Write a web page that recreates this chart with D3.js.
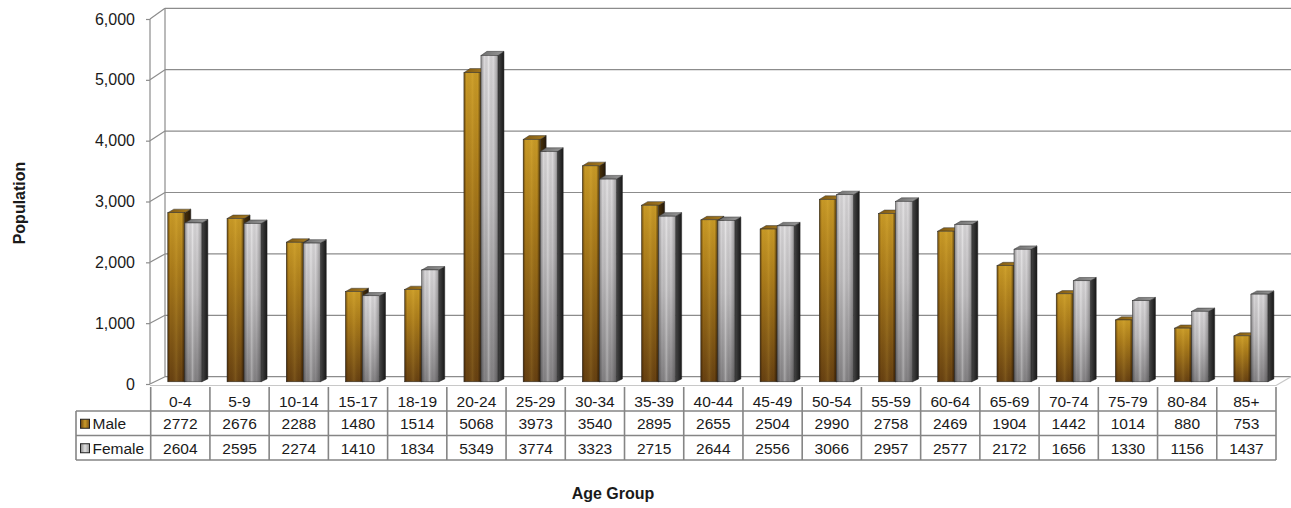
<!DOCTYPE html>
<html>
<head>
<meta charset="utf-8">
<script src="https://cdn.jsdelivr.net/npm/d3@7"></script>
<style>
  html, body { margin: 0; padding: 0; background: #ffffff; }
  svg { display: block; }
  text { font-family: "Liberation Sans", Arial, sans-serif; fill: #1a1a1a; }
</style>
</head>
<body>
<svg id="chart" width="1291" height="508"></svg>
<script>
// ---------------- data ----------------
const categories = ["0-4","5-9","10-14","15-17","18-19","20-24","25-29","30-34","35-39","40-44",
                    "45-49","50-54","55-59","60-64","65-69","70-74","75-79","80-84","85+"];
const seriesNames = ["Male","Female"];
const maleValues   = [2772,2676,2288,1480,1514,5068,3973,3540,2895,2655,2504,2990,2758,2469,1904,1442,1014,880,753];
const femaleValues = [2604,2595,2274,1410,1834,5349,3774,3323,2715,2644,2556,3066,2957,2577,2172,1656,1330,1156,1437];
const yTicks = [0,1000,2000,3000,4000,5000,6000];
const yTitle = "Population";
const xTitle = "Age Group";

// ---------------- layout ----------------
const svg = d3.select("#chart");
const W = 1291, H = 508;
const frontLeft = 150.7, frontRight = 1276;
const y = d3.scaleLinear().domain([0, 6000]).range([384, 19]);
const x = d3.scaleBand().domain(categories).range([frontLeft, frontRight]).padding(0);
const s = d3.scaleBand().domain(seriesNames).range([0, x.bandwidth()]).paddingInner(0).paddingOuter(0.74);
const DX = 15;
// depth offset (vertical) varies slightly with height (perspective)
function dyAt(yy) { return -10.7 + (yy - y(6000)) / (y(0) - y(6000)) * 3.4; }
function proj(xx, yy, z) { return [xx + DX * z, yy + dyAt(yy) * z]; }

const defs = svg.append("defs");
function lin(id, horiz, stops) {
  const g = defs.append("linearGradient").attr("id", id)
    .attr("x1", 0).attr("y1", 0).attr("x2", horiz ? 1 : 0).attr("y2", horiz ? 0 : 1);
  stops.forEach(([o, c, a]) => g.append("stop").attr("offset", o).attr("stop-color", c).attr("stop-opacity", a === undefined ? 1 : a));
}
lin("maleFront", false, [[0, "#c99a26"], [0.35, "#a97a1a"], [1, "#664011"]]);
lin("maleEdge", true, [[0, "#301800", 0.6], [0.15, "#301800", 0], [0.5, "#ffd860", 0.12], [0.82, "#000", 0], [1, "#2a1400", 0.7]]);
lin("maleTop", true, [[0, "#7e5812"], [1, "#a87c20"]]);
lin("maleSide", true, [[0, "#4a3208"], [1, "#24180a"]]);
lin("femFront", false, [[0, "#dcdadc"], [0.45, "#c0bec0"], [1, "#848284"]]);
lin("femEdge", true, [[0, "#000", 0.35], [0.2, "#000", 0], [0.45, "#fff", 0.28], [0.72, "#000", 0], [1, "#000", 0.3]]);
lin("femTop", true, [[0, "#6e6e6e"], [1, "#989898"]]);
lin("femSide", true, [[0, "#464646"], [1, "#181818"]]);
lin("keyMale", true, [[0, "#6c4511"], [0.5, "#c99a28"], [1, "#7a5214"]]);
lin("keyFem", true, [[0, "#8a8a8a"], [0.5, "#e0e0e0"], [1, "#9a9a9a"]]);

const gridColor = "#8c8c8c";
const walls = svg.append("g");

// back wall gridlines
yTicks.forEach(t => {
  const a = proj(frontLeft - 0.7, y(t), 1), b = proj(frontRight, y(t), 1);
  walls.append("line").attr("x1", a[0]).attr("y1", a[1]).attr("x2", W + 2).attr("y2", b[1])
    .attr("stroke", gridColor).attr("stroke-width", 1.2);
  // side wall diagonals
  walls.append("line").attr("x1", 150).attr("y1", y(t)).attr("x2", a[0]).attr("y2", a[1])
    .attr("stroke", gridColor).attr("stroke-width", 1.2);
});
// back-left vertical edge
{
  const a = proj(150, y(6000), 1), b = proj(150, y(0), 1);
  walls.append("line").attr("x1", a[0]).attr("y1", a[1]).attr("x2", b[0]).attr("y2", b[1])
    .attr("stroke", gridColor).attr("stroke-width", 1.2);
}
// floor front & right edges
{
  const r = proj(frontRight, y(0), 1);
  walls.append("line").attr("x1", 150).attr("y1", y(0) + 1.5).attr("x2", frontRight).attr("y2", y(0) + 1.5)
    .attr("stroke", "#c8c8c8").attr("stroke-width", 1.2);
  walls.append("line").attr("x1", frontRight).attr("y1", y(0) + 1.5).attr("x2", r[0]).attr("y2", r[1])
    .attr("stroke", "#c8c8c8").attr("stroke-width", 1.2);
}

// y axis
const yAxis = d3.axisLeft(y).tickValues(yTicks).tickSize(4).tickPadding(11).tickFormat(d3.format(","));
const ga = svg.append("g").attr("transform", "translate(150,0)").call(yAxis);
ga.select(".domain").attr("d", `M0,${y(6000)}V${y(0)}`).attr("stroke", gridColor).attr("stroke-width", 1.2);
ga.selectAll(".tick line").attr("stroke", gridColor).attr("stroke-width", 1.2);
ga.selectAll(".tick text").attr("font-size", "16px").attr("fill", "#1a1a1a")
  .style("font-family", '"Liberation Sans", Arial, sans-serif');

// bars
const z0 = 0.3, zd = 0.4;
const bars = svg.append("g");
const rows = categories.map((c, i) => ({ c, vals: [maleValues[i], femaleValues[i]] }));
rows.forEach(r => {
  seriesNames.forEach((sn, k) => {
    const v = r.vals[k];
    const isMale = k === 0;
    const w = s.bandwidth();
    const yt = y(v), yb = y(0);
    const [x0, ytF] = proj(x(r.c) + s(sn), yt, z0);
    const [, ybF] = proj(0, yb, z0);
    const [x0B, ytB] = proj(x(r.c) + s(sn), yt, z0 + zd);
    const [, ybB] = proj(0, yb, z0 + zd);
    const g = bars.append("g");
    // side
    g.append("path").attr("d", `M${x0 + w},${ytF}L${x0B + w},${ytB}L${x0B + w},${ybB}L${x0 + w},${ybF}Z`)
      .attr("fill", isMale ? "url(#maleSide)" : "url(#femSide)").attr("stroke", "#222").attr("stroke-width", 0.5);
    // top
    g.append("path").attr("d", `M${x0},${ytF}L${x0 + w},${ytF}L${x0B + w},${ytB}L${x0B},${ytB}Z`)
      .attr("fill", isMale ? "url(#maleTop)" : "url(#femTop)").attr("stroke", "#333").attr("stroke-width", 0.5);
    // front
    g.append("rect").attr("x", x0).attr("y", ytF).attr("width", w).attr("height", ybF - ytF)
      .attr("fill", isMale ? "url(#maleFront)" : "url(#femFront)");
    g.append("rect").attr("x", x0).attr("y", ytF).attr("width", w).attr("height", ybF - ytF)
      .attr("fill", isMale ? "url(#maleEdge)" : "url(#femEdge)").attr("stroke", "#2a2a2a").attr("stroke-width", 0.5);
  });
});

// data table
const tbl = svg.append("g");
const tLine = "#858585";
const legLeft = 76;
const rowY = [387, 411, 435.5, 460];
const fontT = "15.5px";
// horizontal lines
[rowY[1], rowY[2], rowY[3]].forEach(yy => {
  tbl.append("line").attr("x1", legLeft).attr("x2", frontRight).attr("y1", yy).attr("y2", yy)
    .attr("stroke", tLine).attr("stroke-width", 1.6);
});
// vertical lines
categories.forEach(c => {
  tbl.append("line").attr("x1", x(c)).attr("x2", x(c)).attr("y1", rowY[0]).attr("y2", rowY[3])
    .attr("stroke", tLine).attr("stroke-width", 1.6);
});
tbl.append("line").attr("x1", frontRight).attr("x2", frontRight).attr("y1", rowY[0]).attr("y2", rowY[3])
  .attr("stroke", tLine).attr("stroke-width", 1.6);
tbl.append("line").attr("x1", legLeft).attr("x2", legLeft).attr("y1", rowY[1]).attr("y2", rowY[3])
  .attr("stroke", tLine).attr("stroke-width", 1.6);
// header labels
categories.forEach(c => {
  tbl.append("text").attr("x", x(c) + x.bandwidth() / 2).attr("y", (rowY[0] + rowY[1]) / 2 + 2)
    .attr("text-anchor", "middle").attr("dominant-baseline", "central").attr("font-size", fontT).text(c);
});
// value rows
[maleValues, femaleValues].forEach((vals, k) => {
  const cy = (rowY[k + 1] + rowY[k + 2]) / 2 + 0.5;
  vals.forEach((v, i) => {
    tbl.append("text").attr("x", x(categories[i]) + x.bandwidth() / 2).attr("y", cy)
      .attr("text-anchor", "middle").attr("dominant-baseline", "central").attr("font-size", fontT).text(v);
  });
  tbl.append("rect").attr("x", 80.5).attr("y", cy - 4.5).attr("width", 9).attr("height", 9)
    .attr("fill", k === 0 ? "url(#keyMale)" : "url(#keyFem)").attr("stroke", "#222").attr("stroke-width", 1);
  tbl.append("text").attr("x", 92.5).attr("y", cy).attr("dominant-baseline", "central")
    .attr("font-size", fontT).text(seriesNames[k]);
});

// titles
svg.append("text").attr("transform", "translate(25,203) rotate(-90)").attr("text-anchor", "middle")
  .attr("font-size", "16px").attr("font-weight", "bold").attr("fill", "#1a1a1a").text(yTitle);
svg.append("text").attr("x", 613).attr("y", 499).attr("text-anchor", "middle")
  .attr("font-size", "16px").attr("font-weight", "bold").attr("fill", "#1a1a1a").text(xTitle);
</script>
</body>
</html>
